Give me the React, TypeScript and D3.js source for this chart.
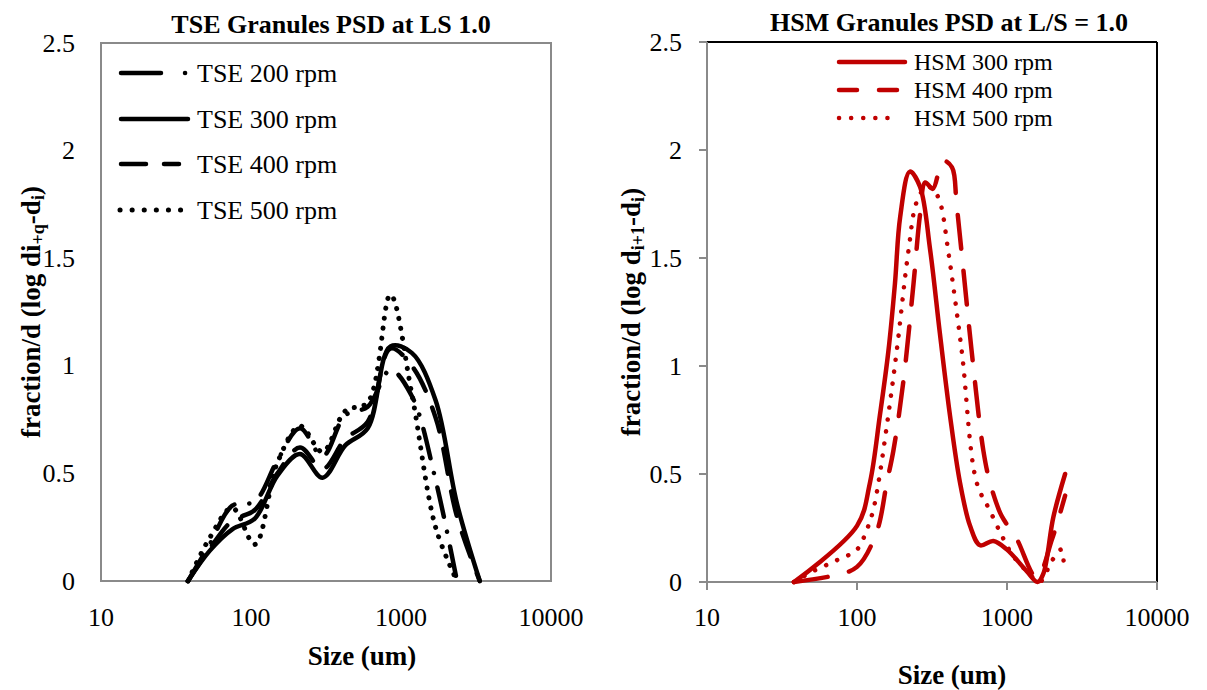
import React from 'react';
import * as d3 from 'd3';

// ---------- Left chart (TSE) data ----------
const tseSizes = [38, 53, 75, 106, 150, 212, 300, 425, 600, 850, 1180, 1700, 2360, 3350];
const tse200 = [0, 0.17, 0.35, 0.37, 0.56, 0.71, 0.58, 0.77, 0.81, 0.98, 0.86, 0.47, 0];
const tse300 = [0, 0.14, 0.24, 0.29, 0.49, 0.59, 0.48, 0.63, 0.71, 1.09, 1.06, 0.84, 0.36, 0];
const tse400 = [0, 0.15, 0.28, 0.33, 0.5, 0.62, 0.52, 0.66, 0.74, 1.08, 1.0, 0.76, 0.3, 0];
const tse500 = [0, 0.2, 0.34, 0.17, 0.55, 0.72, 0.6, 0.79, 0.83, 1.33, 0.87, 0.25, 0];

// ---------- Right chart (HSM) data ----------
const hsm300Sizes = [38, 100, 122, 142, 162, 179, 194, 225, 263, 307, 357, 417, 486, 567, 661, 811, 1000, 1353, 1600, 1750, 2036, 2440];
const hsm300 = [0, 0.26, 0.46, 0.77, 1.07, 1.38, 1.69, 1.9, 1.83, 1.54, 1.15, 0.77, 0.46, 0.26, 0.17, 0.19, 0.15, 0.05, 0, 0.04, 0.3, 0.5];
const hsm400Sizes = [38, 70, 100, 135, 158, 175, 203, 238, 263, 285, 320, 374, 430, 461, 511, 581, 695, 770, 900, 970, 1160, 1577, 2000, 2440];
const hsm400 = [0, 0.03, 0.07, 0.23, 0.46, 0.61, 0.92, 1.38, 1.7, 1.85, 1.82, 1.95, 1.92, 1.75, 1.45, 1.07, 0.61, 0.46, 0.32, 0.28, 0.2, 0.02, 0.2, 0.4];
const hsm500Sizes = [38, 51, 73, 100, 116, 128, 139, 160, 184, 220, 250, 290, 320, 357, 406, 499, 628, 770, 946, 1100, 1400, 1650, 2000, 2300, 2400];
const hsm500 = [0, 0.05, 0.1, 0.15, 0.24, 0.33, 0.46, 0.75, 1.07, 1.53, 1.76, 1.83, 1.82, 1.76, 1.53, 1.07, 0.46, 0.33, 0.2, 0.12, 0.04, 0, 0.1, 0.15, 0.05];

// ---------- Axes ----------
const xTicks = [10, 100, 1000, 10000];
const yTicks = [0, 0.5, 1, 1.5, 2, 2.5];
const tseLabels = ['TSE 200 rpm', 'TSE 300 rpm', 'TSE 400 rpm', 'TSE 500 rpm'];
const hsmLabels = ['HSM 300 rpm', 'HSM 400 rpm', 'HSM 500 rpm'];

const FONT = "'Liberation Serif', 'Times New Roman', serif";
const RED = '#C00000';
const GRAY = '#8a8a8a';

const zip = (xs: number[], ys: number[]) => ys.map((y, i) => [xs[i], y] as [number, number]);

export default function App() {
  const xL = d3.scaleLog().domain([10, 10000]).range([101, 551]);
  const yL = d3.scaleLinear().domain([0, 2.5]).range([581, 43]);
  const xR = d3.scaleLog().domain([10, 10000]).range([707, 1157]);
  const yR = d3.scaleLinear().domain([0, 2.5]).range([582, 42]);

  const mk = (x: any, y: any) =>
    d3.line<[number, number]>().x(d => x(d[0])).y(d => y(d[1])).curve(d3.curveCatmullRom.alpha(0.5));
  const lineL = mk(xL, yL);
  const lineR = mk(xR, yR);

  const tseSeries = [
    { data: zip(tseSizes, tse200), dash: '30 15 0.1 15', w: 4.5, legDash: '40 24 0.1 200' },
    { data: zip(tseSizes, tse300), dash: 'none', w: 4.5, legDash: 'none' },
    { data: zip(tseSizes, tse400), dash: '25 18', w: 4.5, legDash: '25 18' },
    { data: zip(tseSizes, tse500), dash: '0.1 10', w: 5, legDash: '0.1 12' },
  ];
  const tseLegY = [73, 119, 164, 210];
  const tseLegX1 = [121, 121, 121, 120];
  const tseLegX2 = [186, 188, 179, 181];

  const hsmSeries = [
    { data: zip(hsm300Sizes, hsm300), dash: 'none', w: 4.5, legDash: 'none' },
    { data: zip(hsm400Sizes, hsm400), dash: '34 22', w: 4.5, legDash: '18 22' },
    { data: zip(hsm500Sizes, hsm500), dash: '0.1 12', w: 4.5, legDash: '0.1 12' },
  ];
  const hsmLegY = [62, 90, 118];
  const hsmLegX1 = [839, 839, 839];
  const hsmLegX2 = [905, 897, 899];

  return (
    <svg width={1207} height={690} style={{ position: 'absolute', left: 0, top: 0, background: '#fff' }} fontFamily={FONT}>
      <rect x={0} y={0} width={1207} height={690} fill="#fff" />

      {/* ===== LEFT CHART ===== */}
      <text x={331} y={24} textAnchor="middle" dominantBaseline="central" fontWeight="bold" fontSize={26}>
        TSE Granules PSD at LS 1.0
      </text>
      <rect x={101} y={43} width={450} height={538} fill="none" stroke={GRAY} strokeWidth={2} />
      {yTicks.map(t => (
        <text key={'yl' + t} x={75} y={yL(t)} textAnchor="end" dominantBaseline="central" fontSize={26}>
          {t}
        </text>
      ))}
      {xTicks.map(t => (
        <text key={'xl' + t} x={xL(t)} y={617} textAnchor="middle" dominantBaseline="central" fontSize={26}>
          {t}
        </text>
      ))}
      <text x={362} y={656} textAnchor="middle" dominantBaseline="central" fontWeight="bold" fontSize={27}>
        Size (um)
      </text>
      <text
        transform={`translate(31,312) rotate(-90)`}
        textAnchor="middle"
        dominantBaseline="central"
        fontWeight="bold"
        fontSize={27}
      >
        fraction/d (log di
        <tspan fontSize={18} dy={7}>+q</tspan>
        <tspan dy={-7}>-d</tspan>
        <tspan fontSize={18} dy={7}>i</tspan>
        <tspan dy={-7}>)</tspan>
      </text>
      {tseSeries.map((s, i) => (
        <path
          key={'tse' + i}
          d={lineL(s.data) || ''}
          fill="none"
          stroke="#000"
          strokeWidth={s.w}
          strokeDasharray={s.dash}
          strokeLinecap="round"
          strokeLinejoin="round"
        />
      ))}
      {tseLabels.map((lab, i) => (
        <g key={'tleg' + i}>
          <line
            x1={tseLegX1[i]}
            x2={tseLegX2[i]}
            y1={tseLegY[i]}
            y2={tseLegY[i]}
            stroke="#000"
            strokeWidth={tseSeries[i].w}
            strokeDasharray={tseSeries[i].legDash}
            strokeLinecap="round"
          />
          <text x={197} y={tseLegY[i]} dominantBaseline="central" fontSize={26}>
            {lab}
          </text>
        </g>
      ))}

      {/* ===== RIGHT CHART ===== */}
      <text x={949} y={22} textAnchor="middle" dominantBaseline="central" fontWeight="bold" fontSize={26}>
        HSM Granules PSD at L/S = 1.0
      </text>
      <line x1={707} x2={1157} y1={42} y2={42} stroke="#000" strokeWidth={2} />
      <line x1={1157} x2={1157} y1={42} y2={582} stroke="#000" strokeWidth={2} />
      <line x1={707} x2={707} y1={42} y2={582} stroke={GRAY} strokeWidth={2} />
      <line x1={707} x2={1157} y1={582} y2={582} stroke={GRAY} strokeWidth={2} />
      {yTicks.map(t => (
        <g key={'ryt' + t}>
          <line x1={699} x2={707} y1={yR(t)} y2={yR(t)} stroke={GRAY} strokeWidth={2} />
          <text x={682} y={yR(t)} textAnchor="end" dominantBaseline="central" fontSize={26}>
            {t}
          </text>
        </g>
      ))}
      {xTicks.map(t => (
        <g key={'rxt' + t}>
          <line x1={xR(t)} x2={xR(t)} y1={582} y2={590} stroke={GRAY} strokeWidth={2} />
          <text x={xR(t)} y={617} textAnchor="middle" dominantBaseline="central" fontSize={26}>
            {t}
          </text>
        </g>
      ))}
      <text x={952} y={675} textAnchor="middle" dominantBaseline="central" fontWeight="bold" fontSize={27}>
        Size (um)
      </text>
      <text
        transform={`translate(631,312) rotate(-90)`}
        textAnchor="middle"
        dominantBaseline="central"
        fontWeight="bold"
        fontSize={27}
      >
        fraction/d (log d
        <tspan fontSize={18} dy={7}>i+1</tspan>
        <tspan dy={-7}>-d</tspan>
        <tspan fontSize={18} dy={7}>i</tspan>
        <tspan dy={-7}>)</tspan>
      </text>
      {hsmSeries.map((s, i) => (
        <path
          key={'hsm' + i}
          d={lineR(s.data) || ''}
          fill="none"
          stroke={RED}
          strokeWidth={s.w}
          strokeDasharray={s.dash}
          strokeLinecap="round"
          strokeLinejoin="round"
        />
      ))}
      {hsmLabels.map((lab, i) => (
        <g key={'hleg' + i}>
          <line
            x1={hsmLegX1[i]}
            x2={hsmLegX2[i]}
            y1={hsmLegY[i]}
            y2={hsmLegY[i]}
            stroke={RED}
            strokeWidth={hsmSeries[i].w}
            strokeDasharray={hsmSeries[i].legDash}
            strokeLinecap="round"
          />
          <text x={914} y={hsmLegY[i]} dominantBaseline="central" fontSize={24}>
            {lab}
          </text>
        </g>
      ))}
    </svg>
  );
}
